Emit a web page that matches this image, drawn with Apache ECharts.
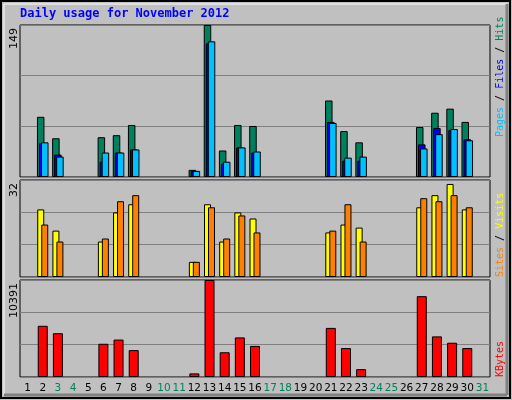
<!DOCTYPE html>
<html><head><meta charset="utf-8">
<script src="https://cdn.jsdelivr.net/npm/echarts@6/dist/echarts.min.js"></script>
<style>html,body{margin:0;padding:0;background:#c0c0c0}#c{width:512px;height:400px}</style>
</head><body><div id="c"></div>
<script>
var days = [];
for (var d = 1; d <= 31; d++) days.push(String(d));
var weekend = ['3', '4', '10', '11', '17', '18', '24', '25', '31'];
// values per day, 1..31
var hits   = [0,59,38,0,0,39,41,51,0,0,0,7,149,26,51,50,0,0,0,0,75,45,34,0,0,0,49,63,67,54,0];
var files  = [0,33,22,0,0,15,24,27,0,0,0,6,131,13,29,24,0,0,0,0,54,16,16,0,0,0,32,48,46,37,0];
var pages  = [0,34,20,0,0,24,24,27,0,0,0,6,133,15,29,25,0,0,0,0,53,19,20,0,0,0,28,42,47,36,0];
var sites  = [0,22.3,15.3,0,0,11.7,21.3,24,0,0,0,5,24,11.7,21.3,19.3,0,0,0,0,14.7,17.3,16.3,0,0,0,23,27,30.7,22.3,0];
var visits = [0,17.3,11.7,0,0,12.7,25,27,0,0,0,5,23,12.7,20.3,14.7,0,0,0,0,15.3,24,11.7,0,0,0,26,25,27,23,0];
var kbytes = [0,5485,4690,0,0,3560,4010,2880,0,0,0,385,10391,2650,4240,3330,0,0,0,0,5260,3100,840,0,0,0,8660,4350,3670,3100,0];

function nz(a) { return a.map(function (v) { return v || null; }); }

var myChart = echarts.init(document.getElementById('c'));
var grids = [
  { left: 20, right: 22, top: 25, height: 152 },
  { left: 20, right: 22, top: 180, height: 97 },
  { left: 20, right: 22, top: 280, height: 97 }
];
var maxes = [149, 32, 10391];
var xAxes = grids.map(function (g, i) {
  return {
    type: 'category', gridIndex: i, data: days,
    axisLine: { show: false }, axisTick: { show: false },
    axisLabel: {
      show: i === 2, interval: 0, fontSize: 10.5, fontFamily: 'DejaVu Sans', margin: 6,
      color: function (v) { return weekend.indexOf(v) >= 0 ? '#00805c' : '#000'; }
    }
  };
});
var yAxes = grids.map(function (g, i) {
  return {
    type: 'value', gridIndex: i, min: 0, max: maxes[i], interval: maxes[i] / 3,
    axisLabel: { show: false }, axisLine: { show: false }, axisTick: { show: false },
    splitLine: { lineStyle: { color: '#808080', width: 1 } }
  };
});
function bar(name, data, color, axis, width, gap) {
  var s = {
    name: name, type: 'bar', xAxisIndex: axis, yAxisIndex: axis, data: nz(data),
    barWidth: width, animation: false,
    itemStyle: { color: color, borderColor: '#000', borderWidth: 1 }
  };
  if (gap) s.barGap = gap;
  return s;
}
var rot = { fontFamily: 'DejaVu Sans Mono', fontSize: 10 };
var option = {
  backgroundColor: '#c0c0c0',
  animation: false,
  grid: grids.map(function (g) { return Object.assign({ show: true, backgroundColor: '#c0c0c0', borderColor: '#000', borderWidth: 1 }, g); }),
  xAxis: xAxes,
  yAxis: yAxes,
  series: [
    bar('Hits', hits, '#00805c', 0, 7.5, '-73%'),
    bar('Files', files, '#0000ff', 0, 7.5, '-73%'),
    bar('Pages', pages, '#00c0ff', 0, 7.5, '-73%'),
    bar('Sites', sites, '#ffff00', 1, 7, '-43%'),
    bar('Visits', visits, '#ff8000', 1, 7, '-43%'),
    bar('KBytes', kbytes, '#ff0000', 2, 10)
  ],
  graphic: [
    { type: 'rect', shape: { x: 1, y: 1, width: 509, height: 397 }, style: { fill: null, stroke: '#000', lineWidth: 2 } },
    { type: 'rect', shape: { x: 4, y: 4, width: 503, height: 391 }, style: { fill: null, stroke: '#fff', lineWidth: 1 } },
    { type: 'line', shape: { x1: 4, y1: 395, x2: 507, y2: 395 }, style: { stroke: '#808080', lineWidth: 3 } },
    { type: 'line', shape: { x1: 507, y1: 4, x2: 507, y2: 395 }, style: { stroke: '#808080', lineWidth: 3 } },
    { type: 'text', left: 20, top: 8, style: { text: 'Daily usage for November 2012', fill: '#0000ff', font: 'bold 12px "DejaVu Sans Mono"' } },
    { type: 'text', x: 9, y: 28, rotation: Math.PI / 2, style: { text: '149', fill: '#000', font: '11px "DejaVu Sans"', align: 'right', verticalAlign: 'top' } },
    { type: 'text', x: 9, y: 183, rotation: Math.PI / 2, style: { text: '32', fill: '#000', font: '11px "DejaVu Sans"', align: 'right', verticalAlign: 'top' } },
    { type: 'text', x: 9, y: 283, rotation: Math.PI / 2, style: { text: '10391', fill: '#000', font: '11px "DejaVu Sans"', align: 'right', verticalAlign: 'top' } },
    { type: 'text', x: 495, y: 137, rotation: Math.PI / 2, style: {
      text: '{p|Pages}{s| / }{f|Files}{s| / }{h|Hits}', align: 'left', verticalAlign: 'top',
      rich: { p: Object.assign({ fill: '#00c0ff' }, rot), f: Object.assign({ fill: '#0000ff' }, rot), h: Object.assign({ fill: '#00805c' }, rot), s: Object.assign({ fill: '#000' }, rot) } } },
    { type: 'text', x: 495, y: 277, rotation: Math.PI / 2, style: {
      text: '{o|Sites}{s| / }{y|Visits}', align: 'left', verticalAlign: 'top',
      rich: { o: Object.assign({ fill: '#ff8000' }, rot), y: Object.assign({ fill: '#ffff00' }, rot), s: Object.assign({ fill: '#000' }, rot) } } },
    { type: 'text', x: 495, y: 377, rotation: Math.PI / 2, style: {
      text: 'KBytes', fill: '#ff0000', font: '10px "DejaVu Sans Mono"', align: 'left', verticalAlign: 'top' } }
  ]
};
myChart.setOption(option);
window.addEventListener('resize', myChart.resize);
</script></body></html>
